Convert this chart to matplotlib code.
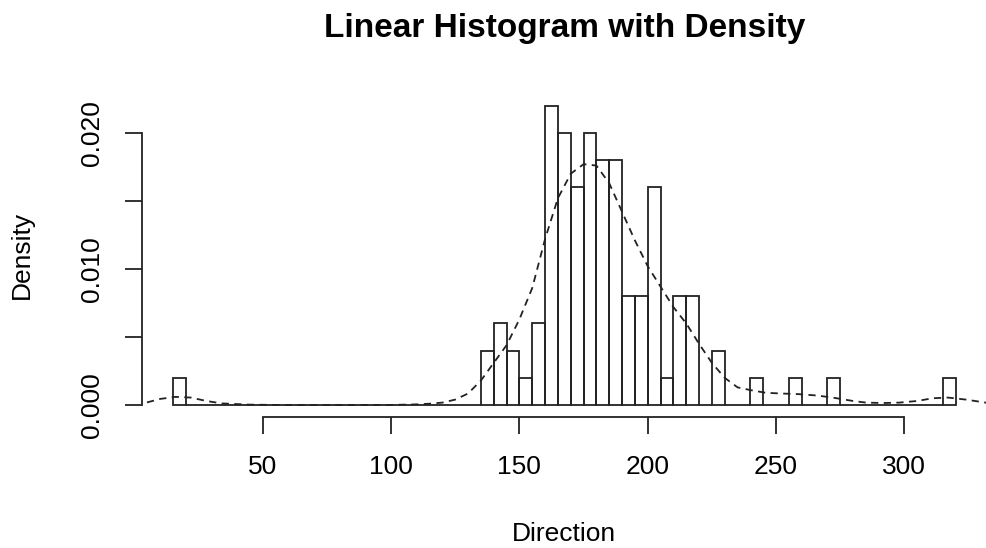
import matplotlib.pyplot as plt
import numpy as np

plt.rcParams['font.family'] = ['Liberation Sans', 'DejaVu Sans']

# histogram bins (left edges, width 5) and their densities
bin_left = np.arange(15, 320, 5)
bin_density = [
    0.002, 0, 0, 0, 0, 0, 0, 0, 0, 0, 0, 0, 0, 0, 0, 0, 0, 0, 0, 0, 0, 0, 0, 0,  # 15 .. 130
    0.004, 0.006, 0.004, 0.002, 0.006, 0.022, 0.020, 0.016, 0.020, 0.018,      # 135 .. 180
    0.018, 0.008, 0.008, 0.016, 0.002, 0.008, 0.008, 0, 0.004, 0,              # 185 .. 230
    0, 0.002, 0, 0, 0.002, 0, 0, 0.002, 0, 0, 0, 0, 0, 0, 0, 0, 0.002,        # 235 .. 315
]

# density curve
dens_x = [0, 4, 10, 16, 22, 28, 34, 45, 60, 80, 100, 110, 115, 120, 125, 130,
          135, 140, 145, 150, 155, 160, 165, 170, 175, 180, 185, 190, 195, 200,
          205, 210, 215, 220, 225, 230, 235, 240, 246, 252, 259, 266, 272, 280,
          285, 292, 298, 305, 311, 317, 324, 332, 340]
dens_y = [0.0001, 0.00015, 0.00045, 0.0006, 0.00055, 0.0003, 0.00012, 0.00003,
          0.0, 0.0, 0.00001, 0.00005, 0.0001, 0.00018, 0.0004, 0.00085,
          0.0018, 0.0031, 0.0044, 0.0063, 0.0086, 0.0122, 0.0152, 0.0170,
          0.0177, 0.0176, 0.0163, 0.0142, 0.0121, 0.0102, 0.0087, 0.0072,
          0.0060, 0.0045, 0.0031, 0.0020, 0.0013, 0.0011, 0.0009, 0.00085,
          0.0008, 0.0007, 0.00055, 0.0003, 0.00018, 0.00015, 0.00018, 0.0003,
          0.0005, 0.00055, 0.0004, 0.00017, 0.0001]

x_ticks = [50, 100, 150, 200, 250, 300]
y_ticks = [0.000, 0.005, 0.010, 0.015, 0.020]
y_labels = ['0.000', '', '0.010', '', '0.020']

ink = '#222222'

fig = plt.figure(figsize=(9.87, 5.48), dpi=100)
ax = fig.add_axes([0.1435, 0.239, 0.8565, 0.59])

ax.bar(bin_left, bin_density, width=5, align='edge', fill=False,
       edgecolor=ink, linewidth=1.3)
ax.plot(dens_x, dens_y, color=ink, linewidth=1.3, linestyle=(0, (4, 3)))

ax.set_xlim(2.8, 332.2)
ax.set_ylim(-0.00088, 0.02288)

for s in ['top', 'right']:
    ax.spines[s].set_visible(False)
ax.spines['left'].set_bounds(0, 0.020)
ax.spines['bottom'].set_bounds(50, 300)
for s in ['left', 'bottom']:
    ax.spines[s].set_color(ink)
    ax.spines[s].set_linewidth(1.3)

ax.set_xticks(x_ticks)
ax.set_yticks(y_ticks)
ax.set_yticklabels(y_labels, rotation=90, va='center')
ax.tick_params(axis='both', direction='out', length=12, width=1.3,
               color=ink, labelsize=19)
ax.tick_params(axis='x', pad=15)
ax.tick_params(axis='y', pad=15)

ax.set_xlabel('Direction', fontsize=19, labelpad=31)
ax.set_ylabel('Density', fontsize=19, labelpad=33)

# title centred over the plot region, as R does
fig.text(0.1435 + 0.8565 / 2, 1 - 37 / 548, 'Linear Histogram with Density',
         fontsize=24, fontweight='bold', ha='center', va='baseline')

fig.savefig('out.png', dpi=100)
